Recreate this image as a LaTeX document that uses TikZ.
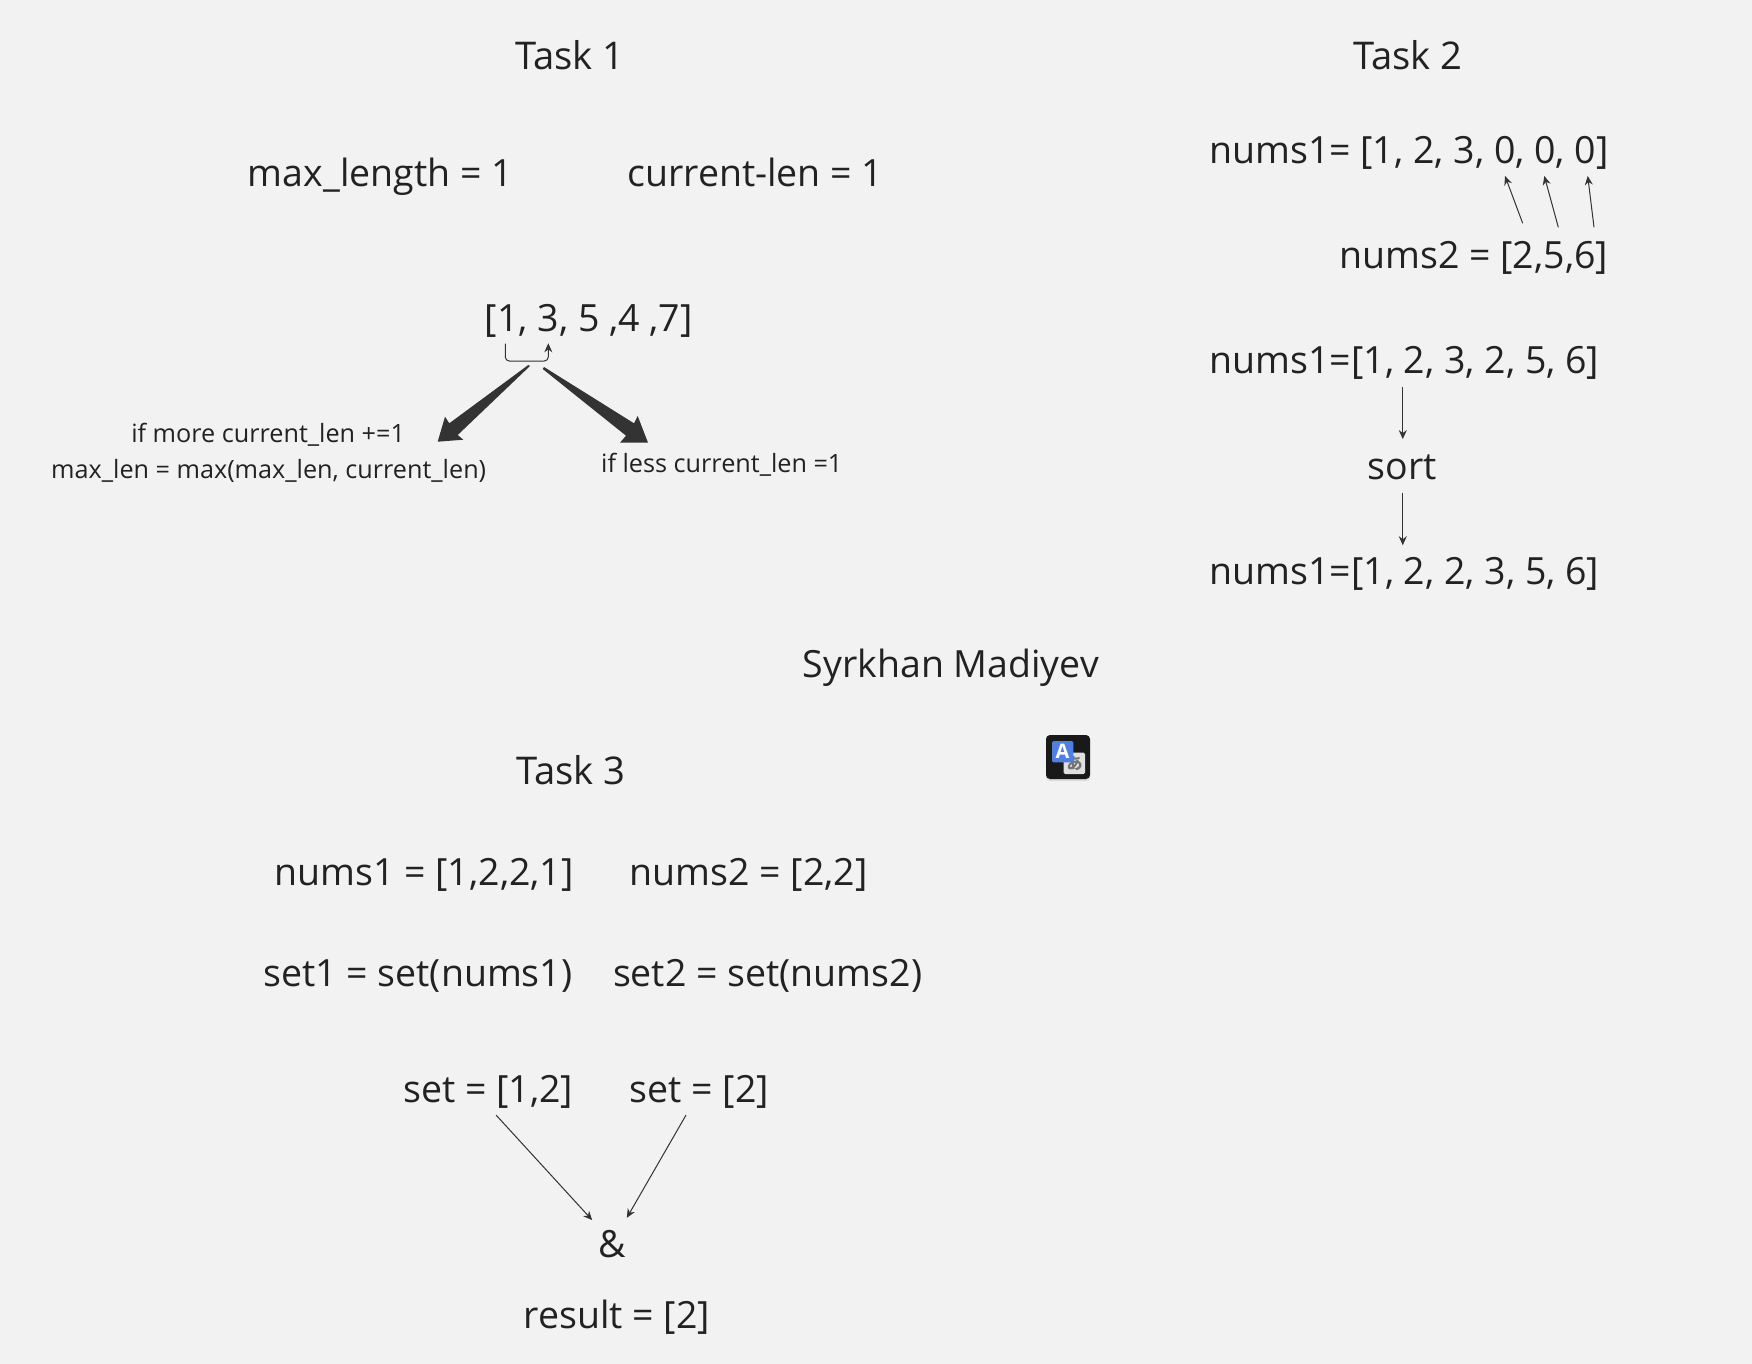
\documentclass[tikz,border=0pt]{standalone}
\usepackage{fontspec}
\setmainfont{Open Sans}
\newfontfamily\cjkjp{Noto Sans CJK JP}
\usetikzlibrary{arrows.meta,shadows}
\definecolor{bgc}{HTML}{F2F2F2}
\definecolor{inkc}{HTML}{222222}
\definecolor{linec}{HTML}{333333}
\definecolor{iconblue}{HTML}{4F7FE0}
\tikzset{
  big/.style={anchor=base,inner sep=0pt,text=inkc,font=\fontsize{37.5}{37.5}\selectfont},
  heading/.style={big,font=\fontsize{38.2}{38.2}\selectfont},
  small/.style={anchor=base,inner sep=0pt,text=inkc,font=\fontsize{25.2}{25.2}\selectfont},
  thin arrow/.style={draw=linec,line width=1pt,-{Stealth[length=9pt,width=8pt]}},
  fat arrow/.style={fill=linec,draw=none},
}
\begin{document}
\begin{tikzpicture}[x=1pt,y=-1pt]
\useasboundingbox (0,0) rectangle (1752,1364);
\fill[bgc] (0,0) rectangle (1752,1364);
\shade[top color=black!5,bottom color=bgc] (0,0) rectangle (335,20);
\shade[top color=black!5,bottom color=bgc] (1600,0) rectangle (1752,20);
\begin{scope}[x=1.1173pt,y=-1.1173pt,xshift=1.1pt,yshift=-1.5pt]
\node[heading] (task1) at (509,61) {Task 1};
\node[heading] (task2) at (1259,61) {Task 2};
\node[big] (maxl) at (339.5,166) {max\_length = 1};
\node[big] (curl) at (675,166) {current-len = 1};
\node[big] (arr) at (526,295.5) {[1, 3, 5 ,4 ,7]};
\node[small] (more) at (239,395) {if more current\_len +=1};
\node[small] (maxf) at (239.5,427.3) {max\_len = max(max\_len, current\_len)};
\node[small] (less) at (645,421.7) {if less current\_len =1};
\node[big] (na) at (1260,145) {nums1= [1, 2, 3, 0, 0, 0]};
\node[big] (nb) at (1318,239) {nums2 = [2,5,6]};
\node[big] (nc) at (1256,333) {nums1=[1, 2, 3, 2, 5, 6]};
\node[big] (srt) at (1254,428) {sort};
\node[big] (nd) at (1256,522) {nums1=[1, 2, 2, 3, 5, 6]};
\node[big] (author) at (850,605) {Syrkhan Madiyev};
\node[heading] (task3) at (510,701) {Task 3};
\node[big] (ta) at (378.5,791) {nums1 = [1,2,2,1]};
\node[big] (tb) at (669,791) {nums2 = [2,2]};
\node[big] (sa) at (373,882) {set1 = set(nums1)};
\node[big] (sb) at (686,882) {set2 = set(nums2)};
\node[big] (ua) at (436,985.5) {set = [1,2]};
\node[big] (ub) at (625,985.5) {set = [2]};
\node[big] (amp) at (547,1124) {\&};
\node[big] (res) at (551,1188) {result = [2]};
\end{scope}
\begin{scope}[x=1.1173pt,y=-1.1173pt]
\coordinate (d1s) at (1255.5,346);
\coordinate (d1e) at (1255.5,393);
\coordinate (d2s) at (1255.5,441);
\coordinate (d2e) at (1255.5,488);
\coordinate (u1s) at (444,998);
\coordinate (u1e) at (530,1092);
\coordinate (u2s) at (614,998);
\coordinate (u2e) at (561,1090);
\end{scope}
\coordinate (a1s) at (1522.7,223.3);
\coordinate (a1e) at (1505,176);
\coordinate (a2s) at (1558.3,227.3);
\coordinate (a2e) at (1544.3,176);
\coordinate (a3s) at (1594,227.3);
\coordinate (a3e) at (1587.7,176);
\coordinate (bs) at (505.3,343.5);
\coordinate (bl) at (505.3,361);
\coordinate (br) at (548.3,361);
\coordinate (be) at (548.3,343.3);
\draw[thin arrow] (a1s) -- (a1e);
\draw[thin arrow] (a2s) -- (a2e);
\draw[thin arrow] (a3s) -- (a3e);
\draw[thin arrow] (d1s) -- (d1e);
\draw[thin arrow] (d2s) -- (d2e);
\draw[thin arrow] (u1s) -- (u1e);
\draw[thin arrow] (u2s) -- (u2e);
\draw[thin arrow,rounded corners=4pt] (bs) -- (bl) -- (br) -- (be);
% tapered arrows
\fill[fat arrow] (530,366) -- (457.7,435) -- (463.3,439.7) -- (437.7,441.7) -- (445,416.7) -- (449.3,423.3) -- (528.3,365) -- cycle;
\fill[fat arrow] (544,367) -- (634,423.3) -- (637.7,416) -- (648,442.7) -- (620,442.7) -- (626,435.7) -- (542.7,369) -- cycle;
% icon
\fill[black!90,rounded corners=4pt,drop shadow={opacity=0.2,shadow xshift=0pt,shadow yshift=-2pt}] (1046,735) rectangle (1090,779);
\fill[white!88!black,rounded corners=1.5pt] (1063.7,752.7) rectangle (1085,774);
\node[inner sep=0pt,text=black!55,font=\cjkjp\bfseries\fontsize{16}{16}\selectfont] (iconb) at (1074.5,763.5) {あ};
\fill[iconblue,rounded corners=1.5pt] (1052,741) rectangle (1073.3,762.3);
\node[inner sep=0pt,text=white,font=\bfseries\fontsize{20}{20}\selectfont] (icona) at (1062.6,751.5) {A};
\end{tikzpicture}
\end{document}
